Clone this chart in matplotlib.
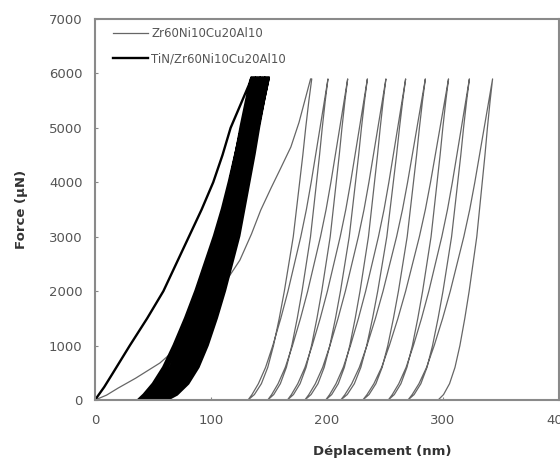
import numpy as np
import matplotlib
matplotlib.use("Agg")
import matplotlib.pyplot as plt

plt.rcParams['font.family'] = ['DejaVu Sans']

# force levels (uN) at which curve shapes were read
SHAPE_F = [0, 100, 300, 600, 1000, 1500, 2000, 2500, 3000, 3500, 4000, 4500, 5000, 5500, 5900]
# fractional depth along an unloading / reloading branch at those forces
UNLOAD_SHAPE = [0.0, 0.10, 0.21, 0.31, 0.40, 0.49, 0.57, 0.64, 0.71, 0.76, 0.81, 0.86, 0.905, 0.955, 1.0]
RELOAD_SHAPE = [0.0, 0.05, 0.13, 0.22, 0.31, 0.41, 0.50, 0.58, 0.66, 0.73, 0.79, 0.845, 0.90, 0.955, 1.0]

# Zr60Ni10Cu20Al10 (thin grey)
zr_load_x = [0, 10, 20, 35, 56, 72, 88, 100, 112, 125, 135, 143, 152, 160, 169, 176, 181, 186]
zr_load_f = [0, 90, 220, 400, 680, 980, 1340, 1750, 2150, 2570, 3050, 3490, 3900, 4250, 4650, 5100, 5500, 5900]
zr_peak = [187, 201, 218, 235, 251, 268, 285, 305, 323, 343]
zr_resid = [132, 149, 166, 181, 199, 212, 231, 253, 270, 296]
zr_fmax = 5900

# TiN/Zr60Ni10Cu20Al10 (thick black)
tin_load_x = [0, 8, 15, 30, 45, 59, 70, 81, 92, 102, 110, 117, 125, 133, 135]
tin_load_f = [0, 240, 480, 1000, 1500, 2000, 2500, 3000, 3500, 4000, 4500, 5000, 5400, 5800, 5930]
tin_peak = [135, 136.5, 138, 139, 140.5, 142, 143, 144.5, 146, 147, 148.5, 150]
tin_resid = [37, 39, 41, 43.5, 45.5, 48, 50, 52.5, 55, 57, 59.5, 62]
tin_fmax = 5930


def cyclic_path(load_x, load_f, peaks, resids, fmax):
    f = np.array(SHAPE_F, dtype=float) / SHAPE_F[-1] * fmax
    xs = list(load_x); fs = list(load_f)
    for i, (p, r) in enumerate(zip(peaks, resids)):
        # unload from peak i down to residual i
        u = r + (p - r) * np.array(UNLOAD_SHAPE)
        xs += list(u[::-1]); fs += list(f[::-1])
        if i + 1 < len(peaks):
            # reload from residual i up to the next peak
            q = r + (peaks[i + 1] - r) * np.array(RELOAD_SHAPE)
            xs += list(q); fs += list(f)
    return xs, fs


fig = plt.figure(figsize=(5.6, 4.59), dpi=100)
ax = fig.add_axes([0.1696, 0.1285, 0.828, 0.830])

x, f = cyclic_path(zr_load_x, zr_load_f, zr_peak, zr_resid, zr_fmax)
ax.plot(x, f, color="#666666", lw=0.9, label="Zr60Ni10Cu20Al10")
x, f = cyclic_path(tin_load_x, tin_load_f, tin_peak, tin_resid, tin_fmax)
ax.plot(x, f, color="black", lw=1.7, label="TiN/Zr60Ni10Cu20Al10")

ax.set_xlim(0, 400); ax.set_ylim(0, 7000)
ax.set_xticks([0, 100, 200, 300, 400])
ax.set_yticks(range(0, 7001, 1000))
ax.tick_params(direction="in", length=2, width=0.8, colors="#888888", labelcolor="#555555", labelsize=9.5)
ax.tick_params(axis="x", pad=10)
ax.tick_params(axis="y", pad=9)
for s in ax.spines.values():
    s.set_color("#8a8a8a"); s.set_linewidth(1.5)
ax.set_xlabel("Déplacement (nm)", fontsize=9.5, fontweight="bold", color="#333333")
ax.set_ylabel("Force (µN)", fontsize=9.5, fontweight="bold", color="#333333")
ax.xaxis.set_label_coords(0.62, -0.118)
ax.yaxis.set_label_coords(-0.145, 0.5)
leg = ax.legend(loc="upper left", frameon=False, fontsize=8.5, handlelength=3.0,
                handletextpad=0.3, labelspacing=1.0, borderaxespad=0.3, bbox_to_anchor=(0.02, 1.0))
for t in leg.get_texts():
    t.set_color("#555555")
fig.savefig("out.png", dpi=100)
